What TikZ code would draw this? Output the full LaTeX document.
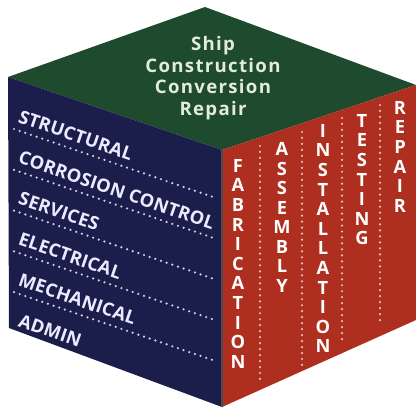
\documentclass[tikz,border=0pt]{standalone}
\usepackage{fontspec}
\setmainfont{Open Sans}
\newfontfamily\cubefont[LetterSpace=1]{Open Sans}
\newfontfamily\topfont[LetterSpace=7]{Open Sans}
\definecolor{topgreen}{HTML}{1E4A2D}
\definecolor{facenavy}{HTML}{1B1D4A}
\definecolor{facered}{HTML}{AE2F1F}
\definecolor{toptext}{HTML}{E2ECD8}
\begin{document}
\begin{tikzpicture}[x=0.02cm, y=-0.02cm]
    \tikzstyle{toplabel}=[align=center, inner sep=0pt, text=toptext, font=\topfont\bfseries\fontsize{10.6}{12.3}\selectfont]
    \tikzstyle{row}=[anchor=base west, rotate=-19, inner sep=0pt, text=white!92!blue, font=\cubefont\bfseries\fontsize{10.4}{11}\selectfont]
    \tikzstyle{column}=[anchor=north, align=center, inner sep=0pt, text=white, font=\cubefont\bfseries\fontsize{10.4}{11.15}\selectfont]
    \tikzstyle{dots}=[line width=1.4pt, line cap=round, dash pattern=on 0pt off 3.4pt]
    \useasboundingbox (0,0) rectangle (417,410);

    % corners of the cube
    \coordinate (top)      at (205,7);
    \coordinate (left)     at (8,77);
    \coordinate (right)    at (416,85);
    \coordinate (front)    at (222,150);
    \coordinate (leftbot)  at (9,328);
    \coordinate (frontbot) at (222,407);
    \coordinate (rightbot) at (416,320);

    \fill[topgreen] (top) -- (left) -- (front) -- (right) -- cycle;
    \fill[facenavy] (left) -- (front) -- (frontbot) -- (leftbot) -- cycle;
    \fill[facered]  (front) -- (right) -- (rightbot) -- (frontbot) -- cycle;
    \draw[black!70, line width=0.6pt] (front) -- (frontbot);

    % top face
    \node[toplabel] (ship) at (213,78) {Ship\\Construction\\Conversion\\Repair};

    % left face
    \node[row] (structural) at (17,122)   {STRUCTURAL};
    \node[row] (corrosion)  at (17,162.8) {CORROSION CONTROL};
    \node[row] (services)   at (17,203.6) {SERVICES};
    \node[row] (electrical) at (17,244.4) {ELECTRICAL};
    \node[row] (mechanical) at (17,285.2) {MECHANICAL};
    \node[row] (admin)      at (17,326)   {ADMIN};

    \draw[dots, draw=white!80!facenavy] (14,129)   -- (216,198)
                                         (14,169.8) -- (216,238.8)
                                         (14,210.6) -- (216,279.6)
                                         (14,251.4) -- (216,320.4)
                                         (14,292.2) -- (216,361.2);

    % right face
    \node[column] (fabrication)  at (238,159) {F\\A\\B\\R\\I\\C\\A\\T\\I\\O\\N};
    \node[column] (assembly)     at (282,142) {A\\S\\S\\E\\M\\B\\L\\Y};
    \node[column] (installation) at (323,124) {I\\N\\S\\T\\A\\L\\L\\A\\T\\I\\O\\N};
    \node[column] (testing)      at (362,114) {T\\E\\S\\T\\I\\N\\G};
    \node[column] (repair)       at (400,101) {R\\E\\P\\A\\I\\R};

    \draw[dots, draw=white!70!facered] (260,146) -- (260,384)
                                        (302,132) -- (302,366)
                                        (342,118) -- (342,344)
                                        (380,105) -- (380,322);

\end{tikzpicture}
\end{document}
